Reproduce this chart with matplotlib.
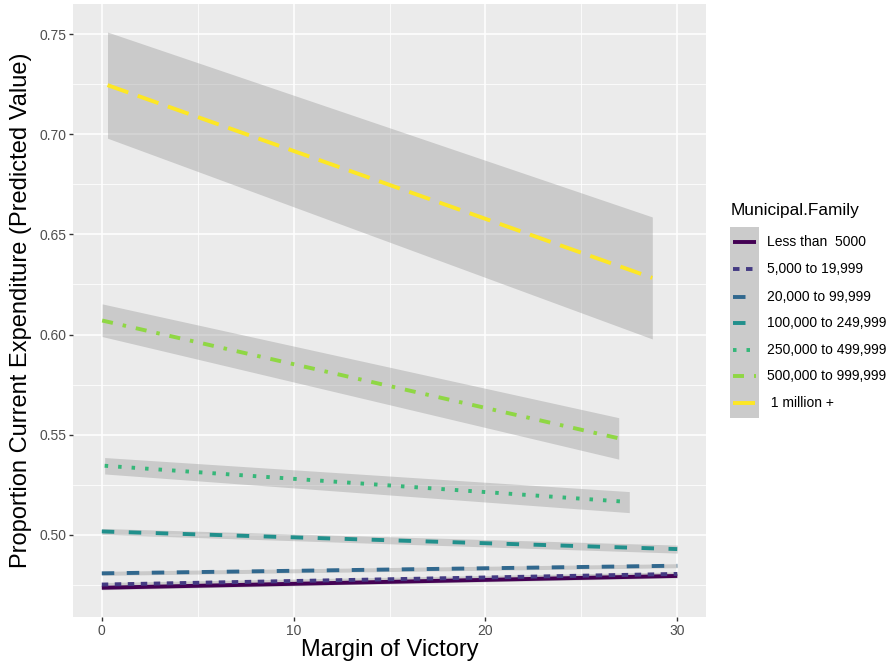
import matplotlib
matplotlib.use("Agg")
import matplotlib.pyplot as plt
from matplotlib.lines import Line2D
from matplotlib.patches import Rectangle

plt.rcParams['font.family'] = ['Liberation Sans', 'DejaVu Sans']
plt.rcParams['lines.scale_dashes'] = False

# predicted values (start / end of each fitted line)
families = ["Less than  5000", "5,000 to 19,999", "20,000 to 99,999",
            "100,000 to 249,999", "250,000 to 499,999", "500,000 to 999,999",
            " 1 million +"]
x_start = [0.0, 0.0, 0.0, 0.0, 0.15, 0.02, 0.3]
x_end = [30.0, 30.0, 30.0, 30.0, 27.5, 26.95, 28.7]
y_start = [0.4736, 0.4752, 0.4808, 0.5017, 0.5345, 0.6070, 0.7245]
y_end = [0.4795, 0.4805, 0.4846, 0.4929, 0.5164, 0.5482, 0.6283]
lo_start = [0.4726, 0.4742, 0.4798, 0.5002, 0.5304, 0.5990, 0.6980]
hi_start = [0.4746, 0.4762, 0.4818, 0.5032, 0.5386, 0.6153, 0.7510]
lo_end = [0.4785, 0.4795, 0.4836, 0.4909, 0.5111, 0.5378, 0.5978]
hi_end = [0.4805, 0.4815, 0.4856, 0.4949, 0.5216, 0.5585, 0.6587]

colors = ["#440154", "#443A83", "#31688E", "#21908C", "#35B779", "#8FD744", "#FDE725"]
px = 0.72  # points per pixel at dpi 100
dashes = [None, (6.5, 6.5), (12.5, 12.5), (12.5, 14.5), (3.5, 10), (11, 10, 3.5, 10), (22, 10)]
lw = 3.9 * px

fig = plt.figure(figsize=(8.91, 6.65), dpi=100)
ax = fig.add_axes([73 / 891, 1 - 617 / 665, 633 / 891, 613 / 665])
ax.set_facecolor("#EBEBEB")

for i in range(len(families)):
    xs = [x_start[i], x_end[i]]
    ax.fill_between(xs, [lo_start[i], lo_end[i]], [hi_start[i], hi_end[i]],
                    color="#999999", alpha=0.4, linewidth=0, zorder=2)
for i in range(len(families)):
    xs = [x_start[i], x_end[i]]
    ln, = ax.plot(xs, [y_start[i], y_end[i]], color=colors[i], lw=lw,
                  solid_capstyle='butt', dash_capstyle='butt', zorder=3)
    if dashes[i] is not None:
        ln.set_dashes([d * px for d in dashes[i]])

ax.set_xlim(-1.5, 31.5)
ax.set_ylim(0.459, 0.765)
ax.set_xticks([0, 10, 20, 30])
ax.set_xticks([5, 15, 25], minor=True)
ax.set_yticks([0.50, 0.55, 0.60, 0.65, 0.70, 0.75])
ax.set_yticklabels(["0.50", "0.55", "0.60", "0.65", "0.70", "0.75"])
ax.set_yticks([0.475, 0.525, 0.575, 0.625, 0.675, 0.725], minor=True)
ax.grid(True, which='major', color='white', lw=1.1, zorder=0)
ax.grid(True, which='minor', color='white', lw=0.55, zorder=0)
ax.set_axisbelow(True)
for s in ax.spines.values():
    s.set_visible(False)
ax.tick_params(which='major', length=3, width=1, color='#333333',
               labelcolor='#4D4D4D', labelsize=10, pad=2)
ax.tick_params(which='minor', length=0)

ax.set_xlabel("Margin of Victory", fontsize=17, color='black', labelpad=1)
ax.set_ylabel("Proportion Current Expenditure (Predicted Value)", fontsize=17,
              color='black', labelpad=5)

# legend drawn by hand, ggplot style
fig.text(731 / 891, 1 - 211 / 665, "Municipal.Family", fontsize=12.4, va='center', ha='left')
fig.add_artist(Rectangle((730 / 891, 1 - 418 / 665), 29 / 891, 191 / 665,
                         transform=fig.transFigure, facecolor="#CBCBCB", edgecolor='none'))
row_y = [241.7, 269.3, 296.7, 323.3, 350, 376.5, 403.3]
for i, name in enumerate(families):
    yf = 1 - row_y[i] / 665
    key = Line2D([733 / 891, 756 / 891], [yf, yf], transform=fig.transFigure,
                 color=colors[i], lw=lw, solid_capstyle='butt', dash_capstyle='butt')
    if dashes[i] is not None:
        key.set_dashes([d * px for d in dashes[i]])
    fig.add_artist(key)
    fig.text(767 / 891, yf, name, fontsize=10, va='center', ha='left')

fig.savefig("out.png", dpi=100)
